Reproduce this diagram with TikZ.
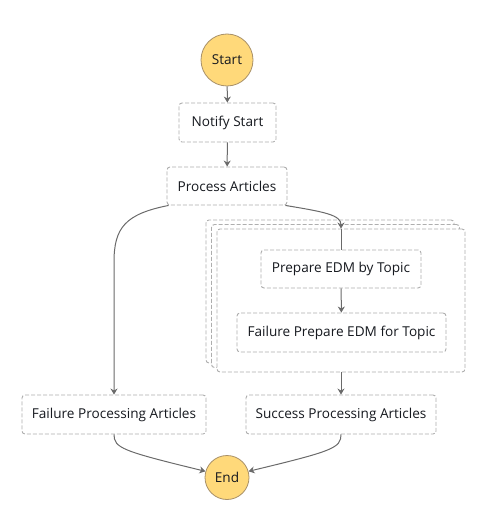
\documentclass[tikz,border=0pt]{standalone}
\usepackage{fontspec}
\setmainfont{Open Sans}
\usetikzlibrary{arrows.meta,calc}
\definecolor{txt}{HTML}{16191F}
\definecolor{dash}{HTML}{AEAEAE}
\definecolor{edge}{HTML}{6A6A6A}
\definecolor{circfill}{HTML}{FFD97A}
\definecolor{circline}{HTML}{A89068}
\begin{document}
\begin{tikzpicture}[x=1pt,y=-1pt,
  every node/.style={text=txt,font=\fontsize{13.6}{15}\selectfont},
  state/.style={draw=dash,dash pattern=on 4pt off 2pt,line width=0.9pt,rounded corners=3pt,fill=white,minimum height=39pt,inner sep=0pt},
  term/.style={circle,draw=circline,line width=0.8pt,fill=circfill,inner sep=0pt},
  flow/.style={draw=edge,line width=1pt,-{Stealth[length=6pt,width=7pt]}},
  plain/.style={draw=edge,line width=1pt}]
\useasboundingbox (0,0) rectangle (491,524);
% nodes
\node[term,minimum size=52pt] (start) at (227,60) {Start};
\node[state,minimum width=97pt] (ns) at (227.5,122.5) {Notify Start};
\node[state,minimum width=120pt,minimum height=38pt] (pa) at (227,186) {Process Articles};
\node[state,minimum width=248pt,minimum height=143pt] (mapb) at (330,291.5) {};
\node[state,minimum width=248pt,minimum height=143pt] (mapc) at (335.5,296) {};
\node[state,minimum width=248pt,minimum height=143pt] (map) at (341,300.5) {};
\node[state,minimum width=160pt,minimum height=38pt] (prep) at (341,269) {Prepare EDM by Topic};
\node[state,minimum width=209pt] (fprep) at (341.5,332.5) {Failure Prepare EDM for Topic};
\node[state,minimum width=184pt] (fp) at (114,414.5) {Failure Processing Articles};
\node[state,minimum width=190pt] (sp) at (341,414.5) {Success Processing Articles};
\node[term,minimum size=44pt] (end) at (227,477.5) {End};
% connectors
\draw[flow] (start) -- (ns);
\draw[flow] (ns) -- (pa);
\draw[flow] ($(pa.south east)+(-2,0)$) .. controls (325,212) and (341,215) .. (map.north);
\draw[plain] (map.north) -- (prep.north);
\draw[flow] (prep) -- (fprep);
\draw[flow] (map.south) -- (sp.north);
\draw[flow] ($(pa.south west)+(2,0)$) .. controls (125,214) and (114,228) .. (114,262) -- (fp.north);
\draw[flow] (fp.south) .. controls (114,448) and (122,451) .. (end.164);
\draw[flow] (sp.south) .. controls (341,448) and (333,451) .. (end.16);
\end{tikzpicture}
\end{document}
